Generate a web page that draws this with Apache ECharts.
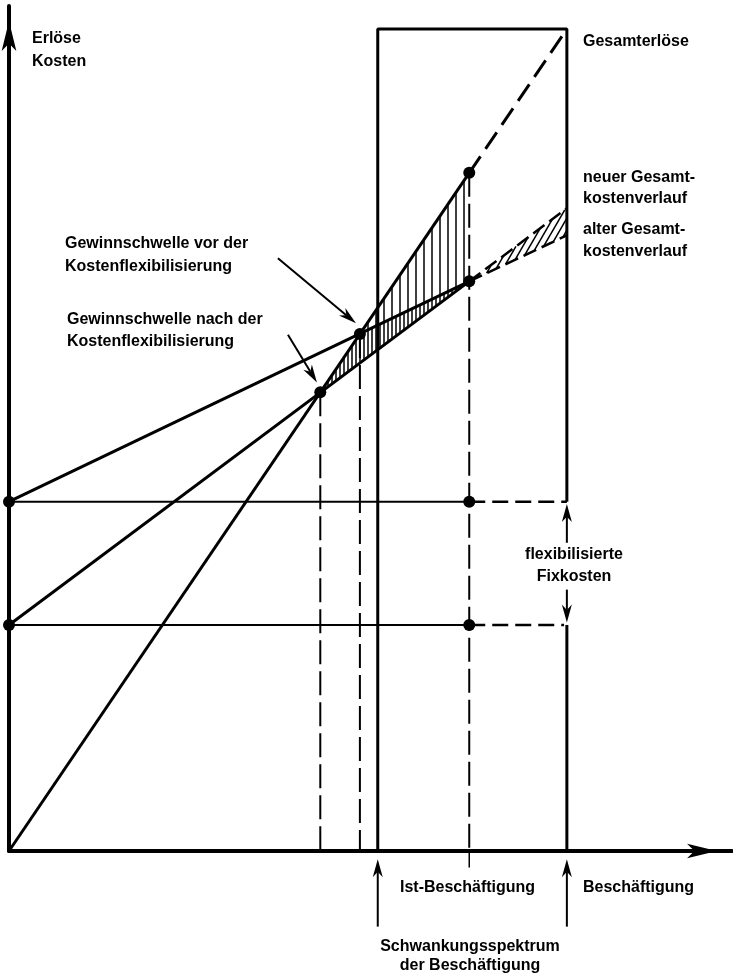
<!DOCTYPE html>
<html>
<head>
<meta charset="utf-8">
<script src="https://cdn.jsdelivr.net/npm/echarts@6/dist/echarts.min.js"></script>
<style>
  html, body { margin: 0; padding: 0; background: #fff; }
  #chart { width: 733px; height: 980px; }
</style>
</head>
<body>
<div id="chart"></div>
<script>
const xMax = 129.6;
const yMax = 102.8;

const istX = 82.5;
const spektrum = [66.1, 100];        // Schwankungsspektrum der Beschäftigung
const fixkosten = [42.5, 27.5];      // alt, neu

const erloese = [[0, 0], [82.5, 82.5]];
const erloeseWeiter = [[82.5, 82.5], [100, 100]];
const kostenAlt = [[0, 42.5], [82.5, 69.3]];
const kostenAltWeiter = [[82.5, 69.3], [100, 74.9]];
const kostenNeu = [[0, 27.5], [82.5, 69.3]];
const kostenNeuWeiter = [[82.5, 69.3], [100, 78.2]];

const schwelleAlt = [62.9, 62.9];
const schwelleNeu = [55.8, 55.8];
const istErloes = [82.5, 82.5];
const istKosten = [82.5, 69.3];

const punkte = [
  [0, 42.5], [0, 27.5], [82.5, 42.5], [82.5, 27.5],
  schwelleAlt, schwelleNeu, istErloes, istKosten
];

// schraffierte Flächen
const felder = [
  [schwelleAlt, istErloes, istKosten],
  [schwelleNeu, schwelleAlt, istKosten],
  [istKosten, [100, 78.2], [100, 74.9]]
];
const felderStil = [
  { winkel: 90, abstand: 8 },
  { winkel: 90, abstand: 4 },
  { winkel: 60, abstand: 6 }
];

// Pfeile: [von x, von y, bis x, bis y]
const pfeile = [
  [48.2, 72.1, 62.2, 64.2],
  [50.0, 62.8, 55.2, 57.0],
  [100, 37.5, 100, 42.2],
  [100, 31.8, 100, 27.8],
  [66.1, -9.2, 66.1, -1.0],
  [100, -9.2, 100, -1.0]
];

const chart = echarts.init(document.getElementById('chart'));

function strecke(data, width, dash) {
  return {
    type: 'line',
    data: data,
    symbol: 'none',
    clip: false,
    silent: true,
    lineStyle: { color: '#000', width: width, type: dash || 'solid', cap: 'butt' },
    z: 3
  };
}

function schraffur(pts, winkel, abstand) {
  const t = winkel * Math.PI / 180;
  const d = [Math.cos(t), -Math.sin(t)];
  const n = [-d[1], d[0]];
  const proj = pts.map(p => p[0] * n[0] + p[1] * n[1]);
  const cmin = Math.min(...proj), cmax = Math.max(...proj);
  const out = [];
  for (let c = Math.ceil(cmin / abstand) * abstand; c <= cmax; c += abstand) {
    const hits = [];
    for (let i = 0; i < pts.length; i++) {
      const j = (i + 1) % pts.length;
      const fa = proj[i] - c, fb = proj[j] - c;
      if ((fa <= 0 && fb > 0) || (fa > 0 && fb <= 0)) {
        const k = fa / (fa - fb);
        hits.push([pts[i][0] + k * (pts[j][0] - pts[i][0]), pts[i][1] + k * (pts[j][1] - pts[i][1])]);
      }
    }
    if (hits.length < 2) continue;
    hits.sort((a, b) => (a[0] * d[0] + a[1] * d[1]) - (b[0] * d[0] + b[1] * d[1]));
    const a = hits[0], b = hits[hits.length - 1];
    out.push({
      type: 'line',
      shape: { x1: a[0], y1: a[1], x2: b[0], y2: b[1] },
      style: { stroke: '#000', lineWidth: 1.5 }
    });
  }
  return out;
}

const schrift = 'bold 16px "Liberation Sans", Arial, sans-serif';
function text(str, x, y, align) {
  return {
    type: 'text',
    x: x, y: y,
    style: {
      text: str, font: schrift, fill: '#000',
      align: align || 'left', verticalAlign: 'middle',
      textAlign: align || 'left', textVerticalAlign: 'middle'
    },
    z: 10
  };
}

const achse = {
  show: true,
  onZero: false,
  symbol: ['none', 'arrow'],
  symbolSize: [11, 30],
  symbolOffset: [0, -15],
  lineStyle: { color: '#000', width: 4 }
};

chart.setOption({
  animation: false,
  grid: { left: 9, right: 1, top: 6, bottom: 129 },
  xAxis: {
    type: 'value', min: 0, max: xMax,
    axisLine: achse, axisTick: { show: false }, axisLabel: { show: false }, splitLine: { show: false }
  },
  yAxis: {
    type: 'value', min: 0, max: yMax,
    axisLine: achse, axisTick: { show: false }, axisLabel: { show: false }, splitLine: { show: false }
  },
  series: [
    // Schwankungsspektrum (Rahmen)
    strecke([[spektrum[0], 0], [spektrum[0], 100], [spektrum[1], 100], [spektrum[1], fixkosten[0]]], 3),
    strecke([[spektrum[1], fixkosten[1]], [spektrum[1], 0]], 3),
    // Erlöse und Kosten
    strecke(erloese, 3),
    strecke(erloeseWeiter, 3, [20, 9]),
    strecke(kostenAlt, 3),
    strecke(kostenAltWeiter, 2.5, [14, 6]),
    strecke(kostenNeu, 3),
    strecke(kostenNeuWeiter, 2.5, [14, 6]),
    // Fixkosten
    strecke([[0, fixkosten[0]], [istX, fixkosten[0]]], 2),
    strecke([[istX, fixkosten[0]], [spektrum[1], fixkosten[0]]], 2.5, [16, 7]),
    strecke([[0, fixkosten[1]], [istX, fixkosten[1]]], 2),
    strecke([[istX, fixkosten[1]], [spektrum[1] - 0.5, fixkosten[1]]], 2.5, [16, 7]),
    // Lote
    strecke([istErloes, [istX, 0]], 2, [24, 7]),
    strecke([[istX, 0], [istX, -2]], 1.5),
    strecke([schwelleAlt, [schwelleAlt[0], 0]], 2, [24, 7]),
    strecke([schwelleNeu, [schwelleNeu[0], 0]], 2, [24, 7]),
    {
      type: 'custom',
      silent: true,
      z: 2,
      data: felder.map((f, i) => [i]),
      renderItem: function (params, api) {
        const pts = felder[params.dataIndex].map(p => api.coord(p));
        const st = felderStil[params.dataIndex];
        return { type: 'group', children: schraffur(pts, st.winkel, st.abstand) };
      }
    },
    {
      type: 'custom',
      silent: true,
      z: 4,
      data: pfeile,
      encode: { x: [0, 2], y: [1, 3] },
      renderItem: function (params, api) {
        const a = api.coord([api.value(0), api.value(1)]);
        const b = api.coord([api.value(2), api.value(3)]);
        const dx = b[0] - a[0], dy = b[1] - a[1];
        const len = Math.hypot(dx, dy);
        const ux = dx / len, uy = dy / len, nx = -uy, ny = ux;
        const L = 18, W = 5;
        const base = [b[0] - ux * L, b[1] - uy * L];
        const kerbe = [b[0] - ux * L * 0.7, b[1] - uy * L * 0.7];
        return {
          type: 'group',
          children: [
            { type: 'line', shape: { x1: a[0], y1: a[1], x2: kerbe[0], y2: kerbe[1] }, style: { stroke: '#000', lineWidth: 2 } },
            { type: 'polygon', shape: { points: [b, [base[0] + nx * W, base[1] + ny * W], kerbe, [base[0] - nx * W, base[1] - ny * W]] }, style: { fill: '#000' } }
          ]
        };
      }
    },
    {
      type: 'scatter',
      data: punkte,
      symbolSize: 12,
      clip: false,
      silent: true,
      itemStyle: { color: '#000', opacity: 1 },
      z: 5
    }
  ],
  graphic: [
    text('Erlöse', 32, 39),
    text('Kosten', 32, 62),
    text('Gesamterlöse', 583, 42),
    text('neuer Gesamt-', 583, 178),
    text('kostenverlauf', 583, 199),
    text('alter Gesamt-', 583, 230),
    text('kostenverlauf', 583, 252),
    text('Gewinnschwelle vor der', 65, 244),
    text('Kostenflexibilisierung', 65, 267),
    text('Gewinnschwelle nach der', 67, 320),
    text('Kostenflexibilisierung', 67, 342),
    text('flexibilisierte', 574, 555, 'center'),
    text('Fixkosten', 574, 577, 'center'),
    text('Ist-Beschäftigung', 400, 888),
    text('Beschäftigung', 583, 888),
    text('Schwankungsspektrum', 470, 947, 'center'),
    text('der Beschäftigung', 470, 966, 'center')
  ]
});
</script>
</body>
</html>
